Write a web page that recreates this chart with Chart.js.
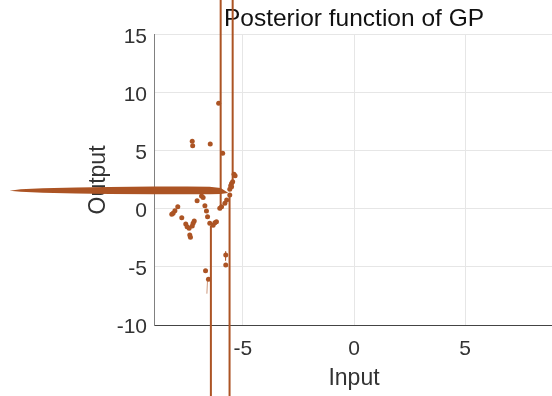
<!DOCTYPE html>
<html>
<head>
<meta charset="utf-8">
<script src="https://cdn.jsdelivr.net/npm/chart.js@4/dist/chart.umd.min.js"></script>
<style>
  html, body { margin: 0; padding: 0; background: #fff; }
  #wrap { width: 552px; height: 396px; overflow: hidden; }
</style>
</head>
<body>
<div id="wrap"><canvas id="gpChart" width="708" height="396"></canvas></div>
<script>
// observed samples (scatter dots)
var dotX = [-6.09, -7.28, -7.26, -6.47, -5.91, -5.40, -5.35, -5.51, -5.55, -5.59,
            -6.86, -6.79, -7.06, -6.71, -7.93, -8.06, -8.14, -8.20, -6.64, -7.75,
            -6.59, -6.49, -7.57, -7.51, -7.42, -7.19, -7.24, -7.28, -7.39, -7.36,
            -6.26, -6.34, -6.19, -6.04, -5.96, -5.81, -5.73, -5.59, -5.51, -5.46,
            -5.77, -5.77, -6.68, -6.55];
var dotY = [9.11, 5.84, 5.46, 5.60, 4.80, 2.99, 2.87, 2.20, 2.00, 1.70,
            1.12, 1.00, 0.72, 0.29, 0.20, -0.15, -0.37, -0.46, -0.17, -0.75,
            -0.66, -1.23, -1.29, -1.53, -1.66, -1.03, -1.23, -1.47, -2.24, -2.44,
            -1.18, -1.41, -1.09, 0.06, 0.20, 0.49, 0.78, 1.21, 1.92, 2.35,
            -3.97, -4.83, -5.32, -6.06];

// posterior mean, blowing up off the axes (null = break)
var meanX = [-6.44, -6.44, null, -6.00, -6.00, null, -5.60, -5.60, null, -5.46, -5.46];
var meanY = [-17, -1.45, null, 20, -0.10, null, 1.30, -17, null, 20, 2.30];

// thin error bars
var errX = [-5.77, -5.78, null, -6.59, -6.62];
var errY = [-3.65, -4.45, null, -6.10, -7.30];

// confidence band (upper / lower)
var bandX = [-15.5, -15.0, -14.0, -12.5, -11.0, -9.0, -7.5, -6.5, -6.0, -5.68];
var bandUpper = [1.58, 1.70, 1.79, 1.86, 1.90, 1.93, 1.94, 1.92, 1.80, 1.42];
var bandLower = [1.58, 1.48, 1.40, 1.34, 1.30, 1.28, 1.27, 1.27, 1.29, 1.37];

var xTicks = [-5, 0, 5];
var yTicks = [-10, -5, 0, 5, 10, 15];

var brown = 'rgb(172, 84, 36)';
var font = 'Liberation Sans, Arial, Helvetica, sans-serif';

function pairs(xs, ys) {
    return xs.map(function (v, i) {
        return v === null ? { x: NaN, y: null } : { x: v, y: ys[i] };
    });
}

// the band goes way past the axes, so draw it without the chart-area clip
var bandPlugin = {
    id: 'band',
    afterDatasetsDraw: function (chart) {
        var ctx = chart.ctx, sx = chart.scales.x, sy = chart.scales.y;
        ctx.save();
        ctx.beginPath();
        for (var i = 0; i < bandX.length; i++) {
            var px = sx.getPixelForValue(bandX[i]), py = sy.getPixelForValue(bandUpper[i]);
            if (i === 0) ctx.moveTo(px, py); else ctx.lineTo(px, py);
        }
        for (var j = bandX.length - 1; j >= 0; j--) {
            ctx.lineTo(sx.getPixelForValue(bandX[j]), sy.getPixelForValue(bandLower[j]));
        }
        ctx.closePath();
        ctx.fillStyle = brown;
        ctx.fill();
        ctx.restore();
    }
};

var ctx = document.getElementById('gpChart').getContext('2d');
var chart = new Chart(ctx, {
    type: 'scatter',
    data: {
        datasets: [
            {
                label: 'mean',
                data: pairs(meanX, meanY),
                showLine: true,
                spanGaps: false,
                borderColor: brown,
                borderWidth: 2,
                pointRadius: 0,
                clip: false
            },
            {
                label: 'err',
                data: pairs(errX, errY),
                showLine: true,
                spanGaps: false,
                borderColor: 'rgba(172, 84, 36, 0.6)',
                borderWidth: 1,
                pointRadius: 0,
                clip: false
            },
            {
                label: 'samples',
                data: pairs(dotX, dotY),
                showLine: false,
                pointRadius: 2.5,
                pointBackgroundColor: brown,
                pointBorderWidth: 0,
                clip: false
            }
        ]
    },
    options: {
        responsive: false,
        animation: false,
        devicePixelRatio: 1,
        layout: { padding: 0 },
        plugins: {
            legend: { display: false },
            tooltip: { enabled: false },
            title: {
                display: true,
                text: 'Posterior function of GP',
                color: '#111',
                font: { family: font, size: 24.5, weight: 'normal', lineHeight: 1.15 },
                padding: { top: 5, bottom: 1.8 }
            }
        },
        scales: {
            x: {
                type: 'linear',
                min: -9,
                max: 9,
                afterBuildTicks: function (s) { s.ticks = xTicks.map(function (v) { return { value: v }; }); },
                afterFit: function (s) { s.height = 71; },
                grid: { color: '#e6e6e6', drawTicks: false },
                border: { color: '#444', width: 1 },
                ticks: { color: '#333', padding: 12, font: { family: font, size: 21 } },
                title: {
                    display: true,
                    text: 'Input',
                    color: '#333',
                    font: { family: font, size: 23 },
                    padding: { top: 0, bottom: 4 }
                }
            },
            y: {
                type: 'linear',
                min: -10,
                max: 15,
                afterBuildTicks: function (s) { s.ticks = yTicks.map(function (v) { return { value: v }; }); },
                afterFit: function (s) { s.width = 154; },
                grid: { color: '#e6e6e6', drawTicks: false },
                border: { color: '#808080', width: 1 },
                ticks: { color: '#333', padding: 7, labelOffset: 2.5, font: { family: font, size: 21 } },
                title: {
                    display: true,
                    text: 'Output',
                    color: '#333',
                    font: { family: font, size: 23 },
                    padding: { top: 85, bottom: 0 }
                }
            },
            // empty right margin so the axes keep MATLAB's placement
            y2: {
                type: 'linear',
                position: 'right',
                display: true,
                afterFit: function (s) { s.width = 154; },
                grid: { display: false },
                border: { display: false },
                ticks: { display: false }
            }
        }
    },
    plugins: [bandPlugin]
});
</script>
</body>
</html>
